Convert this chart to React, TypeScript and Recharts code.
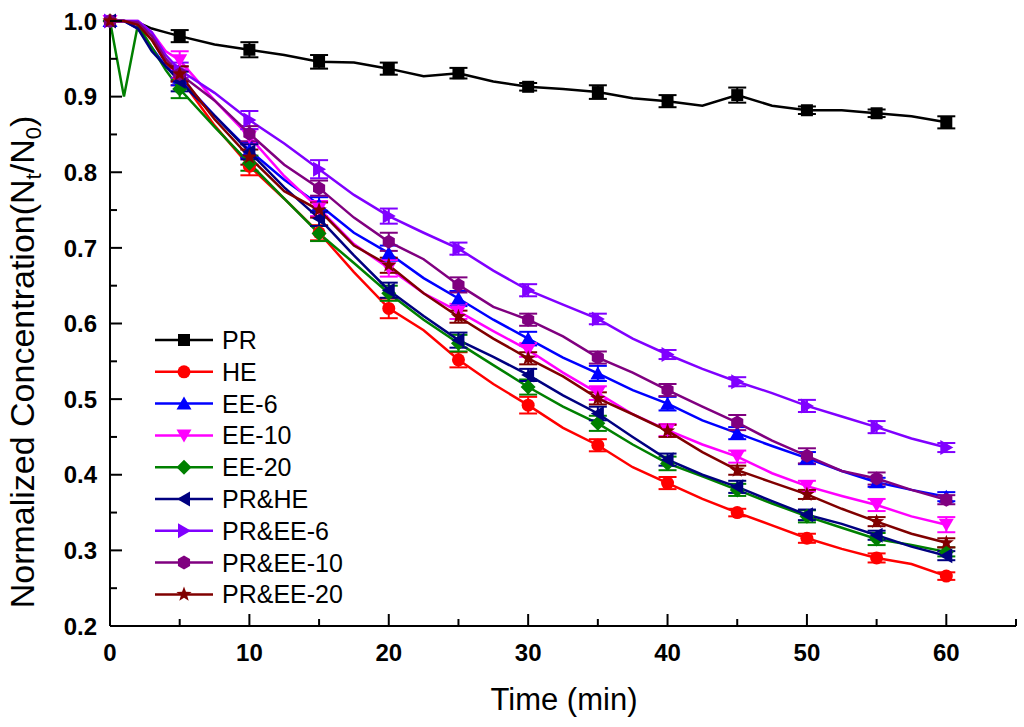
import React from 'react';
import { ComposedChart, Line, Scatter, XAxis, YAxis, ErrorBar, Legend, Label } from 'recharts';

// sampling times of the curves (min) and the times that carry a marker + error bar
const times = [0, 1, 2, 3, 4, 5, 7.5, 10, 12.5, 15, 17.5, 20, 22.5, 25, 27.5, 30, 32.5, 35, 37.5, 40, 42.5, 45, 47.5, 50, 52.5, 55, 57.5, 60];
const markerTimes = [0, 5, 10, 15, 20, 25, 30, 35, 40, 45, 50, 55, 60];

const prValues = [1.0, 1.0, 0.998, 0.99, 0.985, 0.98, 0.969, 0.962, 0.955, 0.946, 0.945, 0.937, 0.927, 0.931, 0.92, 0.913, 0.91, 0.906, 0.898, 0.894, 0.888, 0.902, 0.888, 0.882, 0.882, 0.878, 0.874, 0.866];
const heValues = [1.0, 1.0, 0.995, 0.975, 0.945, 0.925, 0.862, 0.808, 0.765, 0.72, 0.668, 0.62, 0.591, 0.552, 0.52, 0.492, 0.462, 0.439, 0.41, 0.389, 0.368, 0.35, 0.333, 0.316, 0.302, 0.29, 0.282, 0.266];
const ee6Values = [1.0, 1.0, 0.99, 0.965, 0.94, 0.925, 0.875, 0.829, 0.79, 0.757, 0.72, 0.693, 0.66, 0.633, 0.605, 0.58, 0.555, 0.534, 0.512, 0.494, 0.472, 0.455, 0.438, 0.422, 0.405, 0.39, 0.38, 0.371];
const ee10Values = [1.0, 1.0, 1.0, 0.985, 0.96, 0.948, 0.895, 0.847, 0.795, 0.752, 0.705, 0.673, 0.64, 0.616, 0.59, 0.565, 0.535, 0.508, 0.48, 0.459, 0.44, 0.424, 0.402, 0.385, 0.372, 0.36, 0.345, 0.334];
const ee20Values = [1.0, 0.9, 0.995, 0.965, 0.935, 0.91, 0.86, 0.812, 0.765, 0.719, 0.68, 0.64, 0.605, 0.574, 0.545, 0.516, 0.49, 0.468, 0.44, 0.415, 0.398, 0.38, 0.362, 0.345, 0.33, 0.315, 0.307, 0.298];
const prHeValues = [1.0, 1.0, 0.99, 0.96, 0.94, 0.92, 0.875, 0.827, 0.78, 0.739, 0.69, 0.644, 0.61, 0.578, 0.556, 0.532, 0.505, 0.481, 0.45, 0.42, 0.4, 0.384, 0.365, 0.347, 0.335, 0.32, 0.305, 0.293];
const prEe6Values = [1.0, 1.0, 1.0, 0.985, 0.955, 0.935, 0.905, 0.869, 0.838, 0.804, 0.77, 0.742, 0.72, 0.699, 0.67, 0.644, 0.625, 0.606, 0.58, 0.559, 0.54, 0.523, 0.508, 0.491, 0.477, 0.463, 0.448, 0.436];
const prEe10Values = [1.0, 1.0, 0.998, 0.98, 0.95, 0.93, 0.895, 0.851, 0.81, 0.779, 0.74, 0.708, 0.685, 0.651, 0.622, 0.605, 0.583, 0.555, 0.535, 0.512, 0.49, 0.469, 0.445, 0.425, 0.405, 0.395, 0.38, 0.367];
const prEe20Values = [1.0, 1.0, 0.995, 0.975, 0.945, 0.93, 0.87, 0.82, 0.775, 0.75, 0.703, 0.677, 0.64, 0.609, 0.58, 0.554, 0.53, 0.501, 0.48, 0.458, 0.43, 0.406, 0.39, 0.374, 0.355, 0.338, 0.322, 0.31];

// error bar half-lengths at the marker times
const prErrors = [0, 0.008, 0.01, 0.009, 0.008, 0.007, 0.005, 0.009, 0.008, 0.01, 0.005, 0.005, 0.008];
const heErrors = [0, 0.01, 0.012, 0.01, 0.013, 0.01, 0.011, 0.008, 0.008, 0.005, 0.006, 0.006, 0.005];
const ee6Errors = [0, 0.01, 0.01, 0.01, 0.01, 0.01, 0.009, 0.01, 0.009, 0.008, 0.008, 0.006, 0.006];
const ee10Errors = [0, 0.012, 0.01, 0.01, 0.011, 0.01, 0.009, 0.009, 0.008, 0.008, 0.007, 0.008, 0.01];
const ee20Errors = [0, 0.012, 0.01, 0.01, 0.01, 0.011, 0.01, 0.01, 0.009, 0.008, 0.008, 0.008, 0.006];
const prHeErrors = [0, 0.013, 0.01, 0.01, 0.01, 0.01, 0.008, 0.009, 0.008, 0.008, 0.007, 0.006, 0.006];
const prEe6Errors = [0, 0.01, 0.012, 0.012, 0.01, 0.008, 0.008, 0.007, 0.006, 0.006, 0.008, 0.008, 0.006];
const prEe10Errors = [0, 0.01, 0.01, 0.01, 0.012, 0.01, 0.008, 0.008, 0.008, 0.01, 0.01, 0.008, 0.006];
const prEe20Errors = [0, 0.01, 0.01, 0.01, 0.01, 0.008, 0.008, 0.008, 0.008, 0.006, 0.006, 0.006, 0.006];

const xTicks = [0, 5, 10, 15, 20, 25, 30, 35, 40, 45, 50, 55, 60, 65];
const yTicks = [0.2, 0.25, 0.3, 0.35, 0.4, 0.45, 0.5, 0.55, 0.6, 0.65, 0.7, 0.75, 0.8, 0.85, 0.9, 0.95, 1.0];

const FONT = '"Liberation Sans", Arial, sans-serif';

type Shape = 'square' | 'circle' | 'up' | 'down' | 'diamond' | 'left' | 'right' | 'hexagon' | 'star';

const series: { name: string; color: string; shape: Shape; values: number[]; errors: number[] }[] = [
  { name: 'PR', color: '#000000', shape: 'square', values: prValues, errors: prErrors },
  { name: 'HE', color: '#ff0000', shape: 'circle', values: heValues, errors: heErrors },
  { name: 'EE-6', color: '#0000ff', shape: 'up', values: ee6Values, errors: ee6Errors },
  { name: 'EE-10', color: '#ff00ff', shape: 'down', values: ee10Values, errors: ee10Errors },
  { name: 'EE-20', color: '#008000', shape: 'diamond', values: ee20Values, errors: ee20Errors },
  { name: 'PR&HE', color: '#000080', shape: 'left', values: prHeValues, errors: prHeErrors },
  { name: 'PR&EE-6', color: '#8000ff', shape: 'right', values: prEe6Values, errors: prEe6Errors },
  { name: 'PR&EE-10', color: '#800080', shape: 'hexagon', values: prEe10Values, errors: prEe10Errors },
  { name: 'PR&EE-20', color: '#800000', shape: 'star', values: prEe20Values, errors: prEe20Errors },
];

const pts = (arr: number[][]) => arr.map((p) => p.join(',')).join(' ');

function drawMarker(shape: Shape, cx: number, cy: number, color: string) {
  switch (shape) {
    case 'square':
      return <rect x={cx - 6} y={cy - 6} width={12} height={12} fill={color} />;
    case 'circle':
      return <circle cx={cx} cy={cy} r={6.5} fill={color} />;
    case 'up':
      return <polygon points={pts([[cx, cy - 7], [cx + 7.5, cy + 6], [cx - 7.5, cy + 6]])} fill={color} />;
    case 'down':
      return <polygon points={pts([[cx, cy + 7], [cx + 7.5, cy - 6], [cx - 7.5, cy - 6]])} fill={color} />;
    case 'diamond':
      return <polygon points={pts([[cx, cy - 7.5], [cx + 7.5, cy], [cx, cy + 7.5], [cx - 7.5, cy]])} fill={color} />;
    case 'left':
      return <polygon points={pts([[cx - 7, cy], [cx + 6, cy - 7.5], [cx + 6, cy + 7.5]])} fill={color} />;
    case 'right':
      return <polygon points={pts([[cx + 7, cy], [cx - 6, cy - 7.5], [cx - 6, cy + 7.5]])} fill={color} />;
    case 'hexagon': {
      const h = [0, 1, 2, 3, 4, 5].map((k) => {
        const a = (Math.PI / 3) * k + Math.PI / 6;
        return [cx + 7 * Math.cos(a), cy + 7 * Math.sin(a)];
      });
      return <polygon points={pts(h)} fill={color} />;
    }
    case 'star': {
      const s = [];
      for (let k = 0; k < 10; k++) {
        const r = k % 2 === 0 ? 8 : 3.3;
        const a = -Math.PI / 2 + (Math.PI / 5) * k;
        s.push([cx + r * Math.cos(a), cy + r * Math.sin(a)]);
      }
      return <polygon points={pts(s)} fill={color} />;
    }
  }
  return null;
}

const YTick = (props: any) => {
  const { x, y, payload } = props;
  const v = payload.value as number;
  const major = Math.abs(v * 10 - Math.round(v * 10)) < 1e-6;
  return (
    <g>
      <line x1={x} x2={x + (major ? 12 : 7)} y1={y} y2={y} stroke="#000" strokeWidth={2} />
      {major && (
        <text x={x - 13} y={y} dy="0.36em" textAnchor="end" fontSize={24} fontWeight="bold" fontFamily={FONT} fill="#000">
          {v.toFixed(1)}
        </text>
      )}
    </g>
  );
};

const XTick = (props: any) => {
  const { x, y, payload } = props;
  const v = payload.value as number;
  const major = v % 10 === 0;
  return (
    <g>
      <line x1={x} x2={x} y1={y} y2={y - (major ? 12 : 7)} stroke="#000" strokeWidth={2} />
      {major && (
        <text x={x} y={y + 35} textAnchor="middle" fontSize={24} fontWeight="bold" fontFamily={FONT} fill="#000">
          {v}
        </text>
      )}
    </g>
  );
};

const renderLegend = () => (
  <svg width={240} height={300}>
    {series.map((s, i) => (
      <g key={s.name} transform={`translate(0, ${14 + i * 31.8})`}>
        <line x1={10} x2={68} y1={0} y2={0} stroke={s.color} strokeWidth={2.5} />
        {drawMarker(s.shape, 39, 0, s.color)}
        <text x={77} y={0} dy="0.36em" fontSize={25} fontFamily={FONT} fill="#000">
          {s.name}
        </text>
      </g>
    ))}
  </svg>
);

const App: React.FC = () => {
  return (
    <div style={{ position: 'absolute', left: 0, top: 0, width: 1024, height: 727, background: '#fff' }}>
      <ComposedChart width={1024} height={727} margin={{ top: 21, right: 8, bottom: 0, left: 0 }}>
        <XAxis
          dataKey="t"
          type="number"
          domain={[0, 65]}
          ticks={xTicks}
          interval={0}
          height={101}
          tickSize={0}
          tickMargin={0}
          tickLine={false}
          axisLine={{ stroke: '#000', strokeWidth: 2 }}
          tick={<XTick />}
        >
          <Label
            content={() => (
              <text x={564} y={710} textAnchor="middle" fontSize={31} fontFamily={FONT} fill="#000">
                Time (min)
              </text>
            )}
          />
        </XAxis>
        <YAxis
          dataKey="v"
          type="number"
          domain={[0.2, 1.0]}
          ticks={yTicks}
          interval={0}
          width={110}
          tickSize={0}
          tickMargin={0}
          tickLine={false}
          axisLine={{ stroke: '#000', strokeWidth: 2 }}
          tick={<YTick />}
        >
          <Label
            content={() => (
              <text
                x={34}
                y={362}
                transform="rotate(-90, 34, 362)"
                textAnchor="middle"
                fontSize={34}
                fontFamily={FONT}
                fill="#000"
              >
                Normalized Concentration(N
                <tspan dy={7} fontSize={22}>t</tspan>
                <tspan dy={-7}>/N</tspan>
                <tspan dy={7} fontSize={22}>0</tspan>
                <tspan dy={-7}>)</tspan>
              </text>
            )}
          />
        </YAxis>
        <Legend
          layout="vertical"
          align="center"
          verticalAlign="middle"
          content={renderLegend}
          wrapperStyle={{ left: 145, top: 326, width: 240, height: 300 }}
        />
        {series.map((s) => {
          const lineData = times.map((t, i) => ({ t, v: s.values[i] }));
          const markerData = markerTimes.map((t, j) => ({ t, v: s.values[times.indexOf(t)], e: s.errors[j] }));
          return [
            <Line
              key={s.name + '-line'}
              data={lineData}
              dataKey="v"
              type="linear"
              stroke={s.color}
              strokeWidth={2.5}
              dot={false}
              activeDot={false}
              isAnimationActive={false}
              legendType="none"
            />,
            <Scatter
              key={s.name + '-mk'}
              data={markerData}
              dataKey="v"
              isAnimationActive={false}
              legendType="none"
              shape={(p: any) => drawMarker(s.shape, p.cx, p.cy, s.color)}
            >
              <ErrorBar dataKey="e" direction="y" width={9} stroke={s.color} strokeWidth={2} isAnimationActive={false} />
            </Scatter>,
          ];
        })}
      </ComposedChart>
    </div>
  );
};

export default App;
